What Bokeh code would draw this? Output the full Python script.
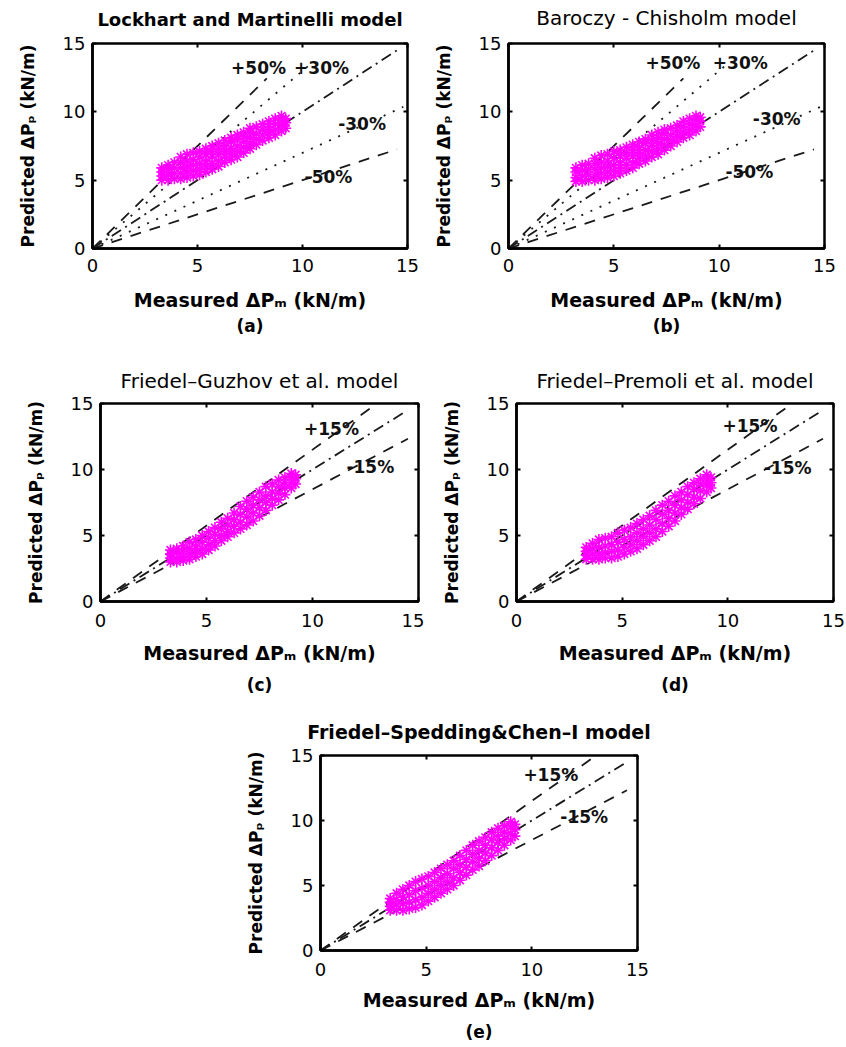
from bokeh.plotting import figure
from bokeh.models import (Range1d, FixedTicker, LinearAxis, Title, Spacer,
                          CustomJSTickFormatter)
from bokeh.layouts import column, row
from bokeh.core.properties import value
from bokeh.embed import file_html
from bokeh.resources import INLINE

# ---------------- data ----------------
tick_values = [0, 5, 10, 15]
x_label = "Measured \u0394P\u2098 (kN/m)"
y_label = "Predicted \u0394P\u209a (kN/m)"

titles = ["Lockhart and Martinelli model", "Baroczy - Chisholm model",
          "Friedel\u2013Guzhov et al. model", "Friedel\u2013Premoli et al. model",
          "Friedel\u2013Spedding&Chen\u2013I model"]
tags = ["(a)", "(b)", "(c)", "(d)", "(e)"]

# scatter clouds: measured values (column x) and predicted values in that column
a_cols_x = [3.3, 3.6, 3.9, 4.2, 4.5, 4.8, 5.1, 5.4, 5.7, 6.0, 6.3, 6.6, 6.9, 7.2, 7.5, 7.8, 8.1, 8.4, 8.7, 9.0, 9.2]
a_cols_y = [[5.0, 5.3, 5.6, 5.9], [5.0, 5.4, 5.8, 6.1], [5.1, 5.5, 5.9, 6.3], [5.1, 5.5, 5.9, 6.3, 6.7],
            [5.2, 5.6, 6.0, 6.4, 6.9], [5.3, 5.7, 6.1, 6.5, 7.0], [5.4, 5.8, 6.2, 6.7, 7.1],
            [5.6, 6.0, 6.4, 6.9, 7.3], [5.8, 6.2, 6.7, 7.1, 7.5], [6.0, 6.4, 6.9, 7.3, 7.7],
            [6.3, 6.7, 7.1, 7.5, 7.9], [6.5, 6.9, 7.3, 7.8, 8.1], [6.7, 7.1, 7.5, 8.0, 8.3],
            [7.0, 7.4, 7.8, 8.2, 8.5], [7.3, 7.7, 8.1, 8.5, 8.8], [7.6, 8.0, 8.4, 8.9],
            [7.9, 8.3, 8.7, 9.1], [8.1, 8.5, 8.9, 9.3], [8.3, 8.7, 9.1, 9.5], [8.6, 9.0, 9.4, 9.7],
            [8.8, 9.2, 9.5]]

b_cols_x = [3.2, 3.5, 3.8, 4.1, 4.4, 4.7, 5.0, 5.3, 5.6, 5.9, 6.2, 6.5, 6.8, 7.1, 7.4, 7.7, 8.0, 8.3, 8.6, 8.9, 9.1]
b_cols_y = [[4.9, 5.2, 5.6, 5.9], [4.9, 5.3, 5.7, 6.1], [5.0, 5.4, 5.8, 6.2], [5.0, 5.4, 5.8, 6.2, 6.6],
            [5.1, 5.5, 5.9, 6.3, 6.8], [5.2, 5.6, 6.0, 6.4, 6.9], [5.3, 5.7, 6.1, 6.6, 7.1],
            [5.5, 5.9, 6.3, 6.8, 7.2], [5.7, 6.1, 6.6, 7.0, 7.4], [5.9, 6.3, 6.8, 7.2, 7.6],
            [6.2, 6.6, 7.0, 7.4, 7.8], [6.4, 6.8, 7.2, 7.7, 8.0], [6.7, 7.1, 7.5, 7.9, 8.3],
            [6.9, 7.3, 7.7, 8.1, 8.5], [7.2, 7.6, 8.0, 8.4, 8.7], [7.5, 7.9, 8.3, 8.8],
            [7.8, 8.2, 8.6, 9.0], [8.1, 8.5, 8.9, 9.3], [8.3, 8.7, 9.1, 9.5], [8.6, 9.0, 9.4, 9.7],
            [8.9, 9.3, 9.6]]

c_cols_x = [3.3, 3.6, 3.9, 4.2, 4.5, 4.8, 5.1, 5.4, 5.7, 6.0, 6.3, 6.6, 6.9, 7.2, 7.5, 7.8, 8.1, 8.4, 8.7, 9.0, 9.2]
c_cols_y = [[3.0, 3.3, 3.6, 3.9], [3.0, 3.3, 3.7, 4.0], [3.1, 3.4, 3.8, 4.2], [3.2, 3.6, 4.0, 4.5],
            [3.4, 3.8, 4.2, 4.7], [3.6, 4.0, 4.5, 5.0], [3.9, 4.3, 4.8, 5.3], [4.2, 4.6, 5.1, 5.6],
            [4.6, 5.0, 5.5, 6.0], [4.9, 5.3, 5.8, 6.3], [5.2, 5.7, 6.2, 6.7], [5.5, 6.0, 6.6, 7.2],
            [5.8, 6.4, 7.0, 7.6], [6.1, 6.7, 7.3, 7.9], [6.5, 7.1, 7.7, 8.3], [6.9, 7.5, 8.0, 8.7],
            [7.3, 7.8, 8.3, 8.9], [7.7, 8.2, 8.7, 9.2], [8.1, 8.6, 9.0, 9.4], [8.6, 9.0, 9.4, 9.7],
            [8.9, 9.3, 9.6]]

d_cols_x = [3.3, 3.6, 3.9, 4.2, 4.5, 4.8, 5.1, 5.4, 5.7, 6.0, 6.3, 6.6, 6.9, 7.2, 7.5, 7.8, 8.1, 8.4, 8.7, 9.0, 9.2]
d_cols_y = [[3.2, 3.5, 3.8, 4.1], [3.2, 3.6, 4.0, 4.4], [3.2, 3.6, 4.1, 4.7], [3.3, 3.7, 4.2, 4.8],
            [3.3, 3.8, 4.3, 4.9], [3.4, 3.9, 4.5, 5.2], [3.6, 4.1, 4.7, 5.4], [3.8, 4.3, 4.9, 5.6],
            [4.0, 4.6, 5.2, 5.9], [4.3, 4.9, 5.5, 6.2], [4.6, 5.2, 5.8, 6.5], [4.9, 5.5, 6.2, 6.9],
            [5.3, 5.9, 6.6, 7.3], [5.7, 6.3, 6.9, 7.6], [6.1, 6.7, 7.3, 8.0], [6.6, 7.1, 7.7, 8.3],
            [7.0, 7.5, 8.1, 8.7], [7.4, 7.9, 8.5, 9.0], [7.8, 8.4, 8.9, 9.3], [8.3, 8.8, 9.2, 9.6],
            [8.6, 9.0, 9.4]]

e_cols_x = [3.3, 3.6, 3.9, 4.2, 4.5, 4.8, 5.1, 5.4, 5.7, 6.0, 6.3, 6.6, 6.9, 7.2, 7.5, 7.8, 8.1, 8.4, 8.7, 9.0, 9.2]
e_cols_y = [[3.1, 3.4, 3.7, 4.0], [3.1, 3.5, 3.9, 4.4], [3.1, 3.6, 4.1, 4.7], [3.2, 3.7, 4.3, 5.0],
            [3.3, 3.9, 4.6, 5.3], [3.5, 4.1, 4.8, 5.5], [3.8, 4.4, 5.0, 5.7], [4.1, 4.7, 5.3, 6.0],
            [4.4, 5.0, 5.6, 6.3], [4.7, 5.3, 5.9, 6.6], [5.0, 5.6, 6.3, 6.9], [5.4, 6.0, 6.6, 7.3],
            [5.8, 6.4, 7.0, 7.7], [6.2, 6.8, 7.4, 8.1], [6.5, 7.1, 7.7, 8.4], [6.9, 7.5, 8.1, 8.7],
            [7.3, 7.9, 8.5, 9.1], [7.7, 8.3, 8.8, 9.4], [8.1, 8.6, 9.1, 9.6], [8.5, 9.0, 9.5, 9.9],
            [8.8, 9.3, 9.7]]

# error-band guide lines: slope factor, end of line (measured), style
ab_guide_k = [1.5, 1.3, 1.0, 0.7, 0.5]
ab_guide_xend = [8.3, 10.4, 14.5, 14.8, 14.5]
ab_guide_style = ["dashed", "dotted", "dashdot", "dotted", "dashed"]
cde_guide_k = [1.15, 1.0, 0.85]
cde_guide_xend = [12.9, 14.4, 14.5]
cde_guide_style = ["dashed", "dashdot", "dashed"]

# band labels
a_lab_text = ["+50%", "+30%", "-30%", "-50%"]
a_lab_x = [6.6, 9.6, 11.7, 10.1]
a_lab_y = [13.2, 13.2, 9.1, 5.2]
b_lab_text = ["+50%", "+30%", "-30%", "-50%"]
b_lab_x = [6.5, 9.7, 11.6, 10.3]
b_lab_y = [13.6, 13.6, 9.5, 5.6]
c_lab_text = ["+15%", "-15%"]
c_lab_x = [9.6, 11.6]
c_lab_y = [13.1, 10.2]
d_lab_text = ["+15%", "-15%"]
d_lab_x = [9.75, 11.7]
d_lab_y = [13.3, 10.1]
e_lab_text = ["+15%", "-15%"]
e_lab_x = [9.6, 11.35]
e_lab_y = [13.5, 10.3]

# ---------------- styling ----------------
FONT = "DejaVu Sans"
DASH = {"dashed": "11 9", "dotted": "2 8", "dashdot": "11 5 2 5"}


def expand(cols_x, cols_y):
    xs, ys = [], []
    for cx, cy in zip(cols_x, cols_y):
        for v in cy:
            xs.append(cx)
            ys.append(v)
    return xs, ys


def hidden_axis():
    return LinearAxis(ticker=FixedTicker(ticks=tick_values),
                      formatter=CustomJSTickFormatter(code="return ''"),
                      axis_line_color=None, major_tick_in=4, major_tick_out=0,
                      major_tick_line_width=2, minor_tick_line_color=None,
                      major_label_standoff=0, major_label_text_font_size="1px")


def panel(title, tstyle, tsize, tstand, tag, w, h, bl, br, bt, bb, so_tick, so_lab, so_tag,
          cols_x, cols_y, gk, gx, gs, lx, ly, lt):
    p = figure(width=w, height=h, min_border_left=bl, min_border_right=br,
               min_border_top=bt, min_border_bottom=bb,
               x_range=Range1d(0, 15), y_range=Range1d(0, 15),
               output_backend="svg", toolbar_location=None)
    p.grid.visible = False
    p.outline_line_color = "black"
    p.outline_line_width = 2.5
    p.outline_line_alpha = 1.0
    for ax in (p.xaxis[0], p.yaxis[0]):
        ax.ticker = FixedTicker(ticks=tick_values)
        ax.minor_tick_line_color = None
        ax.major_tick_in = 4
        ax.major_tick_out = 0
        ax.major_tick_line_width = 2
        ax.axis_line_width = 2.5
        ax.major_label_text_font = FONT
        ax.major_label_text_font_size = "18px"
        ax.major_label_text_color = "black"
        ax.axis_label_text_font = FONT
        ax.axis_label_text_font_style = "bold"
        ax.axis_label_text_color = "black"
    p.xaxis.axis_label = x_label
    p.yaxis.axis_label = y_label
    p.xaxis.axis_label_text_font_size = "19px"
    p.yaxis.axis_label_text_font_size = "17px"
    p.xaxis.major_label_standoff = so_tick
    p.xaxis.axis_label_standoff = so_lab
    p.yaxis.major_label_standoff = 7
    p.yaxis.axis_label_standoff = 22
    p.add_layout(hidden_axis(), "right")
    top = hidden_axis()
    top.axis_label = title
    top.axis_label_text_font = FONT
    top.axis_label_text_font_size = tsize
    top.axis_label_text_font_style = tstyle
    top.axis_label_text_color = "black"
    top.axis_label_standoff = tstand
    p.add_layout(top, "above")
    p.add_layout(Title(text=tag, align="center", text_font=FONT, text_color="black",
                       text_font_size="17px", text_font_style="bold",
                       standoff=so_tag), "below")

    for k, xe, st in zip(gk, gx, gs):
        p.line([0, xe], [0, k * xe], line_color="#1a1a1a", line_width=1.8,
               line_dash=DASH[st])

    xs, ys = expand(cols_x, cols_y)
    p.scatter(xs, ys, marker="asterisk", size=11, line_color="#ff00ff",
              line_width=1.6)

    p.text(x=lx, y=ly, text=lt, text_font=value(FONT), text_font_size="17px",
           text_font_style="bold", text_align="left", text_baseline="middle",
           text_color="#111111")
    return p


pa = panel(titles[0], "bold", "18px", 14, tags[0], 420, 340, 92, 13, 43, 92, 10, 14, 1,
           a_cols_x, a_cols_y, ab_guide_k, ab_guide_xend, ab_guide_style,
           a_lab_x, a_lab_y, a_lab_text)
pb = panel(titles[1], "normal", "20px", 14, tags[1], 426, 340, 88, 22, 43, 92, 10, 14, 1,
           b_cols_x, b_cols_y, ab_guide_k, ab_guide_xend, ab_guide_style,
           b_lab_x, b_lab_y, b_lab_text)
pc = panel(titles[2], "normal", "20px", 11, tags[2], 424, 360, 100, 6, 63, 97, 12, 12, 12,
           c_cols_x, c_cols_y, cde_guide_k, cde_guide_xend, cde_guide_style,
           c_lab_x, c_lab_y, c_lab_text)
pd = panel(titles[3], "normal", "20px", 11, tags[3], 422, 360, 92, 13, 63, 97, 12, 12, 12,
           d_cols_x, d_cols_y, cde_guide_k, cde_guide_xend, cde_guide_style,
           d_lab_x, d_lab_y, d_lab_text)
pe = panel(titles[4], "bold", "19px", 13, tags[4], 430, 347, 90, 23, 55, 95, 12, 10, 12,
           e_cols_x, e_cols_y, cde_guide_k, cde_guide_xend, cde_guide_style,
           e_lab_x, e_lab_y, e_lab_text)

layout = column(row(pa, pb), row(pc, pd), row(Spacer(width=230, height=347), pe))

open("out.html", "w").write(file_html(layout, INLINE))
